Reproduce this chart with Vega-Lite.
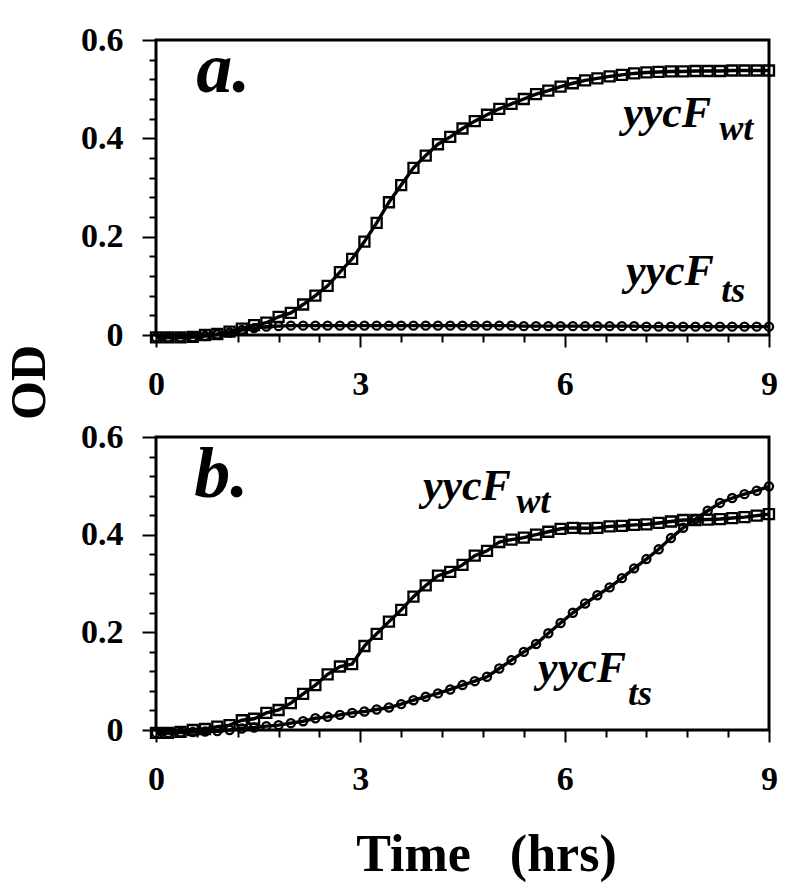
{
"$schema":"https://vega.github.io/schema/vega-lite/v6.json",
"background":"white",
"padding":{"left":2,"top":21,"right":5,"bottom":5},
"bounds":"flush",
"spacing":102,
"config":{"view":{"stroke":"black","strokeWidth":3},"font":"Liberation Serif",
 "axis":{"domain":false,"grid":false,"tickColor":"black","tickWidth":2,"labelFont":"Liberation Serif","labelFontWeight":"bold","labelColor":"black","labelOverlap":false,"labelFlush":false,"labelBound":false},
 "axisX":{"labelPadding":20},"axisY":{"labelPadding":19},
 "text":{"font":"Liberation Serif","fontWeight":"bold","fontStyle":"italic","align":"left","baseline":"alphabetic","color":"black"}},
"datasets":{"curves":[
{"p":"a","s":"wt","t":0,"od":-0.005},{"p":"a","s":"wt","t":0.18,"od":-0.005},{"p":"a","s":"wt","t":0.36,"od":-0.005},{"p":"a","s":"wt","t":0.54,"od":-0.004},{"p":"a","s":"wt","t":0.72,"od":0},{"p":"a","s":"wt","t":0.9,"od":0.002},{"p":"a","s":"wt","t":1.08,"od":0.007},{"p":"a","s":"wt","t":1.26,"od":0.013},{"p":"a","s":"wt","t":1.44,"od":0.02},{"p":"a","s":"wt","t":1.62,"od":0.025},{"p":"a","s":"wt","t":1.8,"od":0.037},{"p":"a","s":"wt","t":1.98,"od":0.045},{"p":"a","s":"wt","t":2.16,"od":0.062},{"p":"a","s":"wt","t":2.34,"od":0.08},{"p":"a","s":"wt","t":2.52,"od":0.1},{"p":"a","s":"wt","t":2.7,"od":0.128},{"p":"a","s":"wt","t":2.88,"od":0.155},{"p":"a","s":"wt","t":3.06,"od":0.19},{"p":"a","s":"wt","t":3.24,"od":0.228},{"p":"a","s":"wt","t":3.42,"od":0.27},{"p":"a","s":"wt","t":3.6,"od":0.305},{"p":"a","s":"wt","t":3.78,"od":0.34},{"p":"a","s":"wt","t":3.96,"od":0.365},{"p":"a","s":"wt","t":4.14,"od":0.388},{"p":"a","s":"wt","t":4.32,"od":0.403},{"p":"a","s":"wt","t":4.5,"od":0.42},{"p":"a","s":"wt","t":4.68,"od":0.435},{"p":"a","s":"wt","t":4.86,"od":0.448},{"p":"a","s":"wt","t":5.04,"od":0.46},{"p":"a","s":"wt","t":5.22,"od":0.47},{"p":"a","s":"wt","t":5.4,"od":0.48},{"p":"a","s":"wt","t":5.58,"od":0.49},{"p":"a","s":"wt","t":5.76,"od":0.497},{"p":"a","s":"wt","t":5.94,"od":0.505},{"p":"a","s":"wt","t":6.12,"od":0.512},{"p":"a","s":"wt","t":6.3,"od":0.518},{"p":"a","s":"wt","t":6.48,"od":0.522},{"p":"a","s":"wt","t":6.66,"od":0.526},{"p":"a","s":"wt","t":6.84,"od":0.529},{"p":"a","s":"wt","t":7.02,"od":0.532},{"p":"a","s":"wt","t":7.2,"od":0.534},{"p":"a","s":"wt","t":7.38,"od":0.535},{"p":"a","s":"wt","t":7.56,"od":0.536},{"p":"a","s":"wt","t":7.74,"od":0.536},{"p":"a","s":"wt","t":7.92,"od":0.537},{"p":"a","s":"wt","t":8.1,"od":0.537},{"p":"a","s":"wt","t":8.28,"od":0.537},{"p":"a","s":"wt","t":8.46,"od":0.538},{"p":"a","s":"wt","t":8.64,"od":0.538},{"p":"a","s":"wt","t":8.82,"od":0.538},{"p":"a","s":"wt","t":9,"od":0.538},
{"p":"a","s":"ts","t":0,"od":-0.005},{"p":"a","s":"ts","t":0.18,"od":-0.005},{"p":"a","s":"ts","t":0.36,"od":-0.005},{"p":"a","s":"ts","t":0.54,"od":-0.004},{"p":"a","s":"ts","t":0.72,"od":-0.002},{"p":"a","s":"ts","t":0.9,"od":0.001},{"p":"a","s":"ts","t":1.08,"od":0.005},{"p":"a","s":"ts","t":1.26,"od":0.01},{"p":"a","s":"ts","t":1.44,"od":0.014},{"p":"a","s":"ts","t":1.62,"od":0.017},{"p":"a","s":"ts","t":1.8,"od":0.018},{"p":"a","s":"ts","t":1.98,"od":0.019},{"p":"a","s":"ts","t":2.16,"od":0.019},{"p":"a","s":"ts","t":2.34,"od":0.019},{"p":"a","s":"ts","t":2.52,"od":0.019},{"p":"a","s":"ts","t":2.7,"od":0.019},{"p":"a","s":"ts","t":2.88,"od":0.019},{"p":"a","s":"ts","t":3.06,"od":0.019},{"p":"a","s":"ts","t":3.24,"od":0.019},{"p":"a","s":"ts","t":3.42,"od":0.019},{"p":"a","s":"ts","t":3.6,"od":0.019},{"p":"a","s":"ts","t":3.78,"od":0.019},{"p":"a","s":"ts","t":3.96,"od":0.019},{"p":"a","s":"ts","t":4.14,"od":0.019},{"p":"a","s":"ts","t":4.32,"od":0.019},{"p":"a","s":"ts","t":4.5,"od":0.019},{"p":"a","s":"ts","t":4.68,"od":0.019},{"p":"a","s":"ts","t":4.86,"od":0.019},{"p":"a","s":"ts","t":5.04,"od":0.019},{"p":"a","s":"ts","t":5.22,"od":0.019},{"p":"a","s":"ts","t":5.4,"od":0.018},{"p":"a","s":"ts","t":5.58,"od":0.018},{"p":"a","s":"ts","t":5.76,"od":0.018},{"p":"a","s":"ts","t":5.94,"od":0.018},{"p":"a","s":"ts","t":6.12,"od":0.018},{"p":"a","s":"ts","t":6.3,"od":0.018},{"p":"a","s":"ts","t":6.48,"od":0.018},{"p":"a","s":"ts","t":6.66,"od":0.018},{"p":"a","s":"ts","t":6.84,"od":0.018},{"p":"a","s":"ts","t":7.02,"od":0.018},{"p":"a","s":"ts","t":7.2,"od":0.017},{"p":"a","s":"ts","t":7.38,"od":0.017},{"p":"a","s":"ts","t":7.56,"od":0.017},{"p":"a","s":"ts","t":7.74,"od":0.017},{"p":"a","s":"ts","t":7.92,"od":0.017},{"p":"a","s":"ts","t":8.1,"od":0.017},{"p":"a","s":"ts","t":8.28,"od":0.017},{"p":"a","s":"ts","t":8.46,"od":0.017},{"p":"a","s":"ts","t":8.64,"od":0.017},{"p":"a","s":"ts","t":8.82,"od":0.017},{"p":"a","s":"ts","t":9,"od":0.017},
{"p":"b","s":"wt","t":0,"od":-0.006},{"p":"b","s":"wt","t":0.18,"od":-0.006},{"p":"b","s":"wt","t":0.36,"od":-0.004},{"p":"b","s":"wt","t":0.54,"od":0},{"p":"b","s":"wt","t":0.72,"od":0.002},{"p":"b","s":"wt","t":0.9,"od":0.007},{"p":"b","s":"wt","t":1.08,"od":0.01},{"p":"b","s":"wt","t":1.26,"od":0.02},{"p":"b","s":"wt","t":1.44,"od":0.023},{"p":"b","s":"wt","t":1.62,"od":0.035},{"p":"b","s":"wt","t":1.8,"od":0.041},{"p":"b","s":"wt","t":1.98,"od":0.055},{"p":"b","s":"wt","t":2.16,"od":0.074},{"p":"b","s":"wt","t":2.34,"od":0.092},{"p":"b","s":"wt","t":2.52,"od":0.114},{"p":"b","s":"wt","t":2.7,"od":0.13},{"p":"b","s":"wt","t":2.88,"od":0.135},{"p":"b","s":"wt","t":3.06,"od":0.172},{"p":"b","s":"wt","t":3.24,"od":0.197},{"p":"b","s":"wt","t":3.42,"od":0.222},{"p":"b","s":"wt","t":3.6,"od":0.246},{"p":"b","s":"wt","t":3.78,"od":0.273},{"p":"b","s":"wt","t":3.96,"od":0.296},{"p":"b","s":"wt","t":4.14,"od":0.316},{"p":"b","s":"wt","t":4.32,"od":0.324},{"p":"b","s":"wt","t":4.5,"od":0.338},{"p":"b","s":"wt","t":4.68,"od":0.357},{"p":"b","s":"wt","t":4.86,"od":0.367},{"p":"b","s":"wt","t":5.04,"od":0.385},{"p":"b","s":"wt","t":5.22,"od":0.39},{"p":"b","s":"wt","t":5.4,"od":0.394},{"p":"b","s":"wt","t":5.58,"od":0.4},{"p":"b","s":"wt","t":5.76,"od":0.406},{"p":"b","s":"wt","t":5.94,"od":0.412},{"p":"b","s":"wt","t":6.12,"od":0.414},{"p":"b","s":"wt","t":6.3,"od":0.413},{"p":"b","s":"wt","t":6.48,"od":0.414},{"p":"b","s":"wt","t":6.66,"od":0.417},{"p":"b","s":"wt","t":6.84,"od":0.418},{"p":"b","s":"wt","t":7.02,"od":0.42},{"p":"b","s":"wt","t":7.2,"od":0.421},{"p":"b","s":"wt","t":7.38,"od":0.424},{"p":"b","s":"wt","t":7.56,"od":0.427},{"p":"b","s":"wt","t":7.74,"od":0.43},{"p":"b","s":"wt","t":7.92,"od":0.43},{"p":"b","s":"wt","t":8.1,"od":0.431},{"p":"b","s":"wt","t":8.28,"od":0.432},{"p":"b","s":"wt","t":8.46,"od":0.434},{"p":"b","s":"wt","t":8.64,"od":0.436},{"p":"b","s":"wt","t":8.82,"od":0.439},{"p":"b","s":"wt","t":9,"od":0.442},
{"p":"b","s":"ts","t":0,"od":-0.006},{"p":"b","s":"ts","t":0.18,"od":-0.006},{"p":"b","s":"ts","t":0.36,"od":-0.005},{"p":"b","s":"ts","t":0.54,"od":-0.004},{"p":"b","s":"ts","t":0.72,"od":-0.003},{"p":"b","s":"ts","t":0.9,"od":-0.002},{"p":"b","s":"ts","t":1.08,"od":0},{"p":"b","s":"ts","t":1.26,"od":0.003},{"p":"b","s":"ts","t":1.44,"od":0.005},{"p":"b","s":"ts","t":1.62,"od":0.008},{"p":"b","s":"ts","t":1.8,"od":0.01},{"p":"b","s":"ts","t":1.98,"od":0.014},{"p":"b","s":"ts","t":2.16,"od":0.018},{"p":"b","s":"ts","t":2.34,"od":0.024},{"p":"b","s":"ts","t":2.52,"od":0.027},{"p":"b","s":"ts","t":2.7,"od":0.031},{"p":"b","s":"ts","t":2.88,"od":0.035},{"p":"b","s":"ts","t":3.06,"od":0.038},{"p":"b","s":"ts","t":3.24,"od":0.042},{"p":"b","s":"ts","t":3.42,"od":0.046},{"p":"b","s":"ts","t":3.6,"od":0.053},{"p":"b","s":"ts","t":3.78,"od":0.061},{"p":"b","s":"ts","t":3.96,"od":0.068},{"p":"b","s":"ts","t":4.14,"od":0.075},{"p":"b","s":"ts","t":4.32,"od":0.083},{"p":"b","s":"ts","t":4.5,"od":0.092},{"p":"b","s":"ts","t":4.68,"od":0.1},{"p":"b","s":"ts","t":4.86,"od":0.109},{"p":"b","s":"ts","t":5.04,"od":0.126},{"p":"b","s":"ts","t":5.22,"od":0.143},{"p":"b","s":"ts","t":5.4,"od":0.16},{"p":"b","s":"ts","t":5.58,"od":0.176},{"p":"b","s":"ts","t":5.76,"od":0.198},{"p":"b","s":"ts","t":5.94,"od":0.219},{"p":"b","s":"ts","t":6.12,"od":0.24},{"p":"b","s":"ts","t":6.3,"od":0.259},{"p":"b","s":"ts","t":6.48,"od":0.276},{"p":"b","s":"ts","t":6.66,"od":0.292},{"p":"b","s":"ts","t":6.84,"od":0.311},{"p":"b","s":"ts","t":7.02,"od":0.331},{"p":"b","s":"ts","t":7.2,"od":0.35},{"p":"b","s":"ts","t":7.38,"od":0.37},{"p":"b","s":"ts","t":7.56,"od":0.393},{"p":"b","s":"ts","t":7.74,"od":0.414},{"p":"b","s":"ts","t":7.92,"od":0.432},{"p":"b","s":"ts","t":8.1,"od":0.449},{"p":"b","s":"ts","t":8.28,"od":0.465},{"p":"b","s":"ts","t":8.46,"od":0.475},{"p":"b","s":"ts","t":8.64,"od":0.483},{"p":"b","s":"ts","t":8.82,"od":0.49},{"p":"b","s":"ts","t":9,"od":0.499}
],"one":[{}]},
"data":{"name":"curves"},
"vconcat":[
{"width":613,"height":295,
 "layer":[
  {"encoding":{
    "x":{"field":"t","type":"quantitative","scale":{"domain":[0,9],"nice":false},
     "axis":{"values":[0,0.6,1.2,1.8,2.4,3,3.6,4.2,4.8,5.4,6,6.6,7.2,7.8,8.4,9],"labelOverlap":false,
      "tickSize":{"condition":{"test":"abs(datum.value/3-round(datum.value/3))<0.001","value":12},"value":7},
      "labelFontSize":{"condition":{"test":"abs(datum.value/3-round(datum.value/3))<0.001","value":34},"value":1},
      "labelExpr":"abs(datum.value/3-round(datum.value/3))<0.001 ? format(datum.value,'d') : ''","title":null}},
    "y":{"field":"od","type":"quantitative","scale":{"domain":[0,0.6],"nice":false,"zero":false},
     "axis":{"values":[0,0.04,0.08,0.12,0.16,0.2,0.24,0.28,0.32,0.36,0.4,0.44,0.48,0.52,0.56,0.6],"labelOverlap":false,
      "tickSize":{"condition":{"test":"abs(datum.value*5-round(datum.value*5))<0.001","value":14},"value":7},
      "labelFontSize":{"condition":{"test":"abs(datum.value*5-round(datum.value*5))<0.001","value":34},"value":1},
      "labelExpr":"abs(datum.value*5-round(datum.value*5))<0.001 ? (datum.value==0 ? '0' : format(datum.value,'.1f')) : ''",
      "title":"OD","titleFont":"Liberation Serif","titleFontWeight":"bold","titleFontSize":50,"titleColor":"black","titleX":-127,"titleY":342,"titleAngle":270,"titleAlign":"center","titleBaseline":"middle"}}},
   "layer":[
    {"transform":[{"filter":"datum.p=='a'"}],
     "mark":{"type":"line","color":"black","strokeWidth":3.4},
     "encoding":{"detail":{"field":"s"}}},
    {"transform":[{"filter":"datum.p=='a' && datum.s=='wt'"}],
     "mark":{"type":"point","shape":"square","size":100,"filled":false,"stroke":"black","strokeWidth":2.3,"opacity":1}},
    {"transform":[{"filter":"datum.p=='a' && datum.s=='ts'"}],
     "mark":{"type":"point","shape":"circle","size":66,"filled":false,"stroke":"black","strokeWidth":2.3,"opacity":1}}
   ]},
  {"data":{"name":"one"},
   "encoding":{
    "x":{"datum":0,"type":"quantitative","scale":{"domain":[0,9],"nice":false},
     "axis":{"values":[0,0.6,1.2,1.8,2.4,3,3.6,4.2,4.8,5.4,6,6.6,7.2,7.8,8.4,9],"labelOverlap":false,
      "tickSize":{"condition":{"test":"abs(datum.value/3-round(datum.value/3))<0.001","value":12},"value":7},
      "labelFontSize":{"condition":{"test":"abs(datum.value/3-round(datum.value/3))<0.001","value":34},"value":1},
      "labelExpr":"abs(datum.value/3-round(datum.value/3))<0.001 ? format(datum.value,'d') : ''","title":null}},
    "y":{"datum":0,"type":"quantitative","scale":{"domain":[0,0.6],"nice":false,"zero":false},
     "axis":{"values":[0,0.04,0.08,0.12,0.16,0.2,0.24,0.28,0.32,0.36,0.4,0.44,0.48,0.52,0.56,0.6],"labelOverlap":false,
      "tickSize":{"condition":{"test":"abs(datum.value*5-round(datum.value*5))<0.001","value":14},"value":7},
      "labelFontSize":{"condition":{"test":"abs(datum.value*5-round(datum.value*5))<0.001","value":34},"value":1},
      "labelExpr":"abs(datum.value*5-round(datum.value*5))<0.001 ? (datum.value==0 ? '0' : format(datum.value,'.1f')) : ''",
      "title":"OD","titleFont":"Liberation Serif","titleFontWeight":"bold","titleFontSize":50,"titleColor":"black","titleX":-127,"titleY":342,"titleAngle":270,"titleAlign":"center","titleBaseline":"middle"}}},
   "layer":[
    {"mark":{"type":"text","text":"a.","fontSize":72},"encoding":{"x":{"datum":0.59},"y":{"datum":0.494}}},
    {"mark":{"type":"text","text":"yycF","fontSize":44},"encoding":{"x":{"datum":6.86},"y":{"datum":0.423}}},
    {"mark":{"type":"text","text":"wt","fontSize":36},"encoding":{"x":{"datum":8.27},"y":{"datum":0.397}}},
    {"mark":{"type":"text","text":"yycF","fontSize":44},"encoding":{"x":{"datum":6.9},"y":{"datum":0.102}}},
    {"mark":{"type":"text","text":"ts","fontSize":36},"encoding":{"x":{"datum":8.3},"y":{"datum":0.067}}}
   ]}
 ]},
{"width":613,"height":293,
 "layer":[
  {"encoding":{
    "x":{"field":"t","type":"quantitative","scale":{"domain":[0,9],"nice":false},
     "axis":{"values":[0,0.6,1.2,1.8,2.4,3,3.6,4.2,4.8,5.4,6,6.6,7.2,7.8,8.4,9],"labelOverlap":false,
      "tickSize":{"condition":{"test":"abs(datum.value/3-round(datum.value/3))<0.001","value":12},"value":7},
      "labelFontSize":{"condition":{"test":"abs(datum.value/3-round(datum.value/3))<0.001","value":34},"value":1},
      "labelExpr":"abs(datum.value/3-round(datum.value/3))<0.001 ? format(datum.value,'d') : ''",
      "title":"Time\u00a0\u00a0\u00a0(hrs)","titleFont":"Liberation Serif","titleFontWeight":"bold","titleFontSize":52,"titleColor":"black","titleX":330,"titleY":140,"titleAlign":"center","titleBaseline":"alphabetic"}},
    "y":{"field":"od","type":"quantitative","scale":{"domain":[0,0.6],"nice":false,"zero":false},
     "axis":{"values":[0,0.04,0.08,0.12,0.16,0.2,0.24,0.28,0.32,0.36,0.4,0.44,0.48,0.52,0.56,0.6],"labelOverlap":false,
      "tickSize":{"condition":{"test":"abs(datum.value*5-round(datum.value*5))<0.001","value":14},"value":7},
      "labelFontSize":{"condition":{"test":"abs(datum.value*5-round(datum.value*5))<0.001","value":34},"value":1},
      "labelExpr":"abs(datum.value*5-round(datum.value*5))<0.001 ? (datum.value==0 ? '0' : format(datum.value,'.1f')) : ''","title":null}}},
   "layer":[
    {"transform":[{"filter":"datum.p=='b'"}],
     "mark":{"type":"line","color":"black","strokeWidth":3.4},
     "encoding":{"detail":{"field":"s"}}},
    {"transform":[{"filter":"datum.p=='b' && datum.s=='wt'"}],
     "mark":{"type":"point","shape":"square","size":100,"filled":false,"stroke":"black","strokeWidth":2.3,"opacity":1}},
    {"transform":[{"filter":"datum.p=='b' && datum.s=='ts'"}],
     "mark":{"type":"point","shape":"circle","size":66,"filled":false,"stroke":"black","strokeWidth":2.3,"opacity":1}}
   ]},
  {"data":{"name":"one"},
   "encoding":{
    "x":{"datum":0,"type":"quantitative","scale":{"domain":[0,9],"nice":false},
     "axis":{"values":[0,0.6,1.2,1.8,2.4,3,3.6,4.2,4.8,5.4,6,6.6,7.2,7.8,8.4,9],"labelOverlap":false,
      "tickSize":{"condition":{"test":"abs(datum.value/3-round(datum.value/3))<0.001","value":12},"value":7},
      "labelFontSize":{"condition":{"test":"abs(datum.value/3-round(datum.value/3))<0.001","value":34},"value":1},
      "labelExpr":"abs(datum.value/3-round(datum.value/3))<0.001 ? format(datum.value,'d') : ''",
      "title":"Time\u00a0\u00a0\u00a0(hrs)","titleFont":"Liberation Serif","titleFontWeight":"bold","titleFontSize":52,"titleColor":"black","titleX":330,"titleY":140,"titleAlign":"center","titleBaseline":"alphabetic"}},
    "y":{"datum":0,"type":"quantitative","scale":{"domain":[0,0.6],"nice":false,"zero":false},
     "axis":{"values":[0,0.04,0.08,0.12,0.16,0.2,0.24,0.28,0.32,0.36,0.4,0.44,0.48,0.52,0.56,0.6],"labelOverlap":false,
      "tickSize":{"condition":{"test":"abs(datum.value*5-round(datum.value*5))<0.001","value":14},"value":7},
      "labelFontSize":{"condition":{"test":"abs(datum.value*5-round(datum.value*5))<0.001","value":34},"value":1},
      "labelExpr":"abs(datum.value*5-round(datum.value*5))<0.001 ? (datum.value==0 ? '0' : format(datum.value,'.1f')) : ''","title":null}}},
   "layer":[
    {"mark":{"type":"text","text":"b.","fontSize":72},"encoding":{"x":{"datum":0.56},"y":{"datum":0.477}}},
    {"mark":{"type":"text","text":"yycF","fontSize":44},"encoding":{"x":{"datum":3.92},"y":{"datum":0.471}}},
    {"mark":{"type":"text","text":"wt","fontSize":36},"encoding":{"x":{"datum":5.29},"y":{"datum":0.444}}},
    {"mark":{"type":"text","text":"yycF","fontSize":44},"encoding":{"x":{"datum":5.61},"y":{"datum":0.098}}},
    {"mark":{"type":"text","text":"ts","fontSize":36},"encoding":{"x":{"datum":6.93},"y":{"datum":0.051}}}
   ]}
 ]}
]
}
